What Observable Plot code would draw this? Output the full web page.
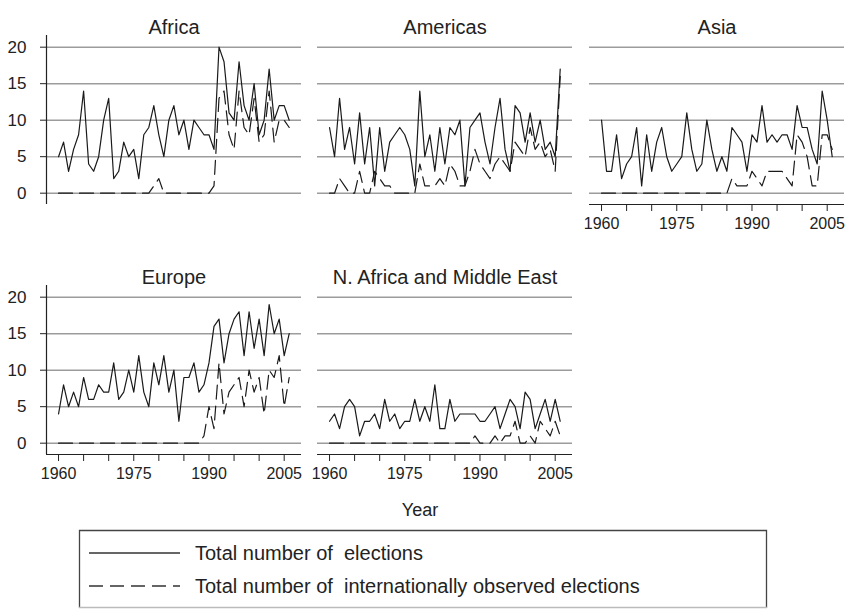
<!DOCTYPE html>
<html>
<head>
<meta charset="utf-8">
<script src="https://cdn.jsdelivr.net/npm/d3@7"></script>
<script src="https://cdn.jsdelivr.net/npm/@observablehq/plot@0.6"></script>
<style>
  body { margin: 0; background: #fff; }
  #chart { position: relative; width: 845px; height: 609px; overflow: hidden;
           font-family: "Liberation Sans", Arial, sans-serif; color: #222; }
  .panel { position: absolute; }
  #overlay { position: absolute; left: 0; top: 0; }
</style>
</head>
<body>
<div id="chart"></div>
<script>
// Elections per year, 1960–2006, by region
const years = d3.range(1960, 2007);

const africaTotal    = [5,7,3,6,8,14,4,3,5,10, 13,2,3,7,5,6,2,8,9,12, 8,5,10,12,8,10,6,10,9,8, 8,6,20,18,11,10,18,12,10,15, 8,10,17,10,12,12,10];
const africaObserved = [0,0,0,0,0,0,0,0,0,0, 0,0,0,0,0,0,0,0,0,1, 2,0,0,0,0,0,0,0,0,0, 0,1,13,14,8,6,14,9,8,13, 7,8,14,7,10,10,9];

const americasTotal    = [9,5,13,6,9,4,11,4,9,1, 9,3,7,8,9,8,6,1,14,5, 8,3,9,4,9,8,10,1,9,10, 11,7,4,9,13,6,3,12,11,7, 11,7,10,6,7,5,17];
const americasObserved = [0,0,2,1,0,0,3,0,0,3, 2,1,1,0,0,0,0,0,4,1, 1,1,2,1,4,3,1,1,3,6, 4,3,2,4,5,4,3,7,6,5, 9,6,7,5,6,3,16];

const asiaTotal    = [10,3,3,8,2,4,5,9,1,8, 3,7,9,5,3,4,5,11,6,3, 4,10,6,3,5,3,9,8,7,3, 8,7,12,7,8,7,8,8,6,12, 9,9,6,4,14,10,5];
const asiaObserved = [0,0,0,0,0,0,0,0,0,0, 0,0,0,0,0,0,0,0,0,0, 0,0,0,0,0,0,2,1,1,1, 3,2,1,3,3,3,3,2,1,8, 7,5,1,1,8,8,6];

const europeTotal    = [4,8,5,7,5,9,6,6,8,7, 7,11,6,7,10,7,12,7,5,11, 8,12,7,10,3,9,9,11,7,8, 11,16,17,11,15,17,18,12,18,13, 17,12,19,15,17,12,15];
const europeObserved = [0,0,0,0,0,0,0,0,0,0, 0,0,0,0,0,0,0,0,0,0, 0,0,0,0,0,0,0,0,0,1, 5,2,11,4,7,8,9,5,10,7, 9,4,10,9,12,5,9];

const meTotal    = [3,4,2,5,6,5,1,3,3,4, 2,6,3,4,2,3,3,6,3,5, 3,8,2,2,6,3,4,4,4,4, 3,3,4,5,2,4,6,5,2,7, 6,2,4,6,3,6,3];
const meObserved = [0,0,0,0,0,0,0,0,0,0, 0,0,0,0,0,0,0,0,0,0, 0,0,0,0,0,0,0,0,0,1, 0,0,0,1,0,1,1,3,0,0, 1,0,3,2,1,3,1];

const yTicks = [0, 5, 10, 15, 20];
const xTicks = [1960, 1965, 1970, 1975, 1980, 1985, 1990, 1995, 2000, 2005];
const xLabels = [1960, 1975, 1990, 2005];
const xDomain = [1957.6, 2008.45];
const yDomain = [-1.55, 21.6];

const seriesNames = ["Total number of  elections", "Total number of  internationally observed elections"];
const yearTitle = "Year";

// panel layout: frame left/top in page pixels, and which axes each shows
const panels = [
  {name: "Africa",                    total: africaTotal,   observed: africaObserved,   left: 45.7,  top: 35,  yAxis: true,  xAxis: false},
  {name: "Americas",                  total: americasTotal, observed: americasObserved, left: 317.3, top: 35,  yAxis: false, xAxis: false},
  {name: "Asia",                      total: asiaTotal,     observed: asiaObserved,     left: 589,   top: 35,  yAxis: false, xAxis: true},
  {name: "Europe",                    total: europeTotal,   observed: europeObserved,   left: 45.7,  top: 285, yAxis: true,  xAxis: true},
  {name: "N. Africa and Middle East", total: meTotal,       observed: meObserved,       left: 317.3, top: 285, yAxis: false, xAxis: true}
];

const frameW = 255, frameH = 169;
const mL = 45, mT = 35, mR = 1, mB = 40;
const dash = "14,7";
const ink = "#1a1a1a";
const font = "'Liberation Sans', Arial, sans-serif";

const chart = document.getElementById("chart");

for (const p of panels) {
  const rows = years.map((year, i) => ({year, total: p.total[i], observed: p.observed[i]}));
  const marks = [
    Plot.gridY({ticks: yTicks, stroke: "#9c9c9c", strokeOpacity: 1, strokeWidth: 1.4}),
    Plot.line(rows, {x: "year", y: "observed", stroke: ink, strokeWidth: 1.2, strokeDasharray: dash}),
    Plot.line(rows, {x: "year", y: "total", stroke: ink, strokeWidth: 1.2}),
    Plot.text([p.name], {frameAnchor: "top", dy: -16, fontSize: 20, fill: "#222"})
  ];
  if (p.yAxis) {
    marks.push(Plot.ruleX([xDomain[0]], {stroke: "#222", strokeWidth: 1.2}));
    marks.push(Plot.axisY({ticks: yTicks, label: null, tickSize: 6, tickPadding: 14, fontSize: 17, stroke: "#222", fill: "#222"}));
  }
  if (p.xAxis) {
    marks.push(Plot.ruleY([yDomain[0]], {stroke: "#222", strokeWidth: 1.2}));
    marks.push(Plot.axisX({ticks: xTicks, label: null, tickSize: 7, tickPadding: 6, fontSize: 16, stroke: "#222", fill: "#222",
      tickFormat: d => xLabels.includes(d) ? String(d) : ""}));
  }
  const svg = Plot.plot({
    width: mL + frameW + mR,
    height: mT + frameH + mB,
    marginLeft: mL, marginTop: mT, marginRight: mR, marginBottom: mB,
    x: {domain: xDomain, axis: null},
    y: {domain: yDomain, axis: null},
    style: {background: "transparent", fontFamily: font, fontSize: "16px", overflow: "visible"},
    marks
  });
  svg.classList.add("panel");
  svg.style.left = (p.left - mL) + "px";
  svg.style.top = (p.top - mT) + "px";
  chart.appendChild(svg);
}

// shared axis title and legend
const overlay = d3.select(chart).append("svg")
  .attr("id", "overlay").attr("width", 845).attr("height", 609)
  .style("font-family", font);

overlay.append("text")
  .attr("x", 420).attr("y", 516).attr("text-anchor", "middle")
  .attr("font-size", 18).attr("fill", "#222").text(yearTitle);

const legend = overlay.append("g").attr("transform", "translate(79,530)");
legend.append("path").attr("d", "M0.5,78 V0.5 H687.5 V78").attr("fill", "none").attr("stroke", "#444").attr("stroke-width", 1.3);
legend.append("line").attr("x1", 0).attr("x2", 688).attr("y1", 77.5).attr("y2", 77.5).attr("stroke", "#bbb").attr("stroke-width", 1.3);
const legendRows = [
  {label: seriesNames[0], dasharray: null, y: 23},
  {label: seriesNames[1], dasharray: dash, y: 56}
];
for (const r of legendRows) {
  legend.append("line")
    .attr("x1", 10).attr("x2", 101).attr("y1", r.y).attr("y2", r.y)
    .attr("stroke", "#333").attr("stroke-width", 1.4)
    .attr("stroke-dasharray", r.dasharray);
  legend.append("text")
    .attr("x", 116).attr("y", r.y + 7)
    .attr("font-size", 20).attr("fill", "#222")
    .style("white-space", "pre")
    .text(r.label);
}
</script>
</body>
</html>
